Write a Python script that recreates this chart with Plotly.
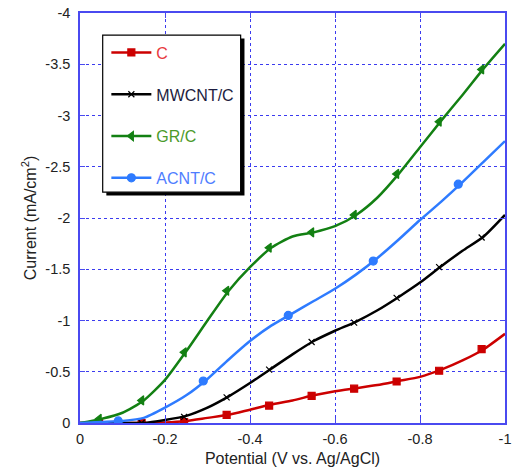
import plotly.graph_objects as go

# ---------------- data ----------------
potential = [0.0, -0.05, -0.10, -0.15, -0.20, -0.25, -0.30, -0.35, -0.40, -0.45, -0.50,
             -0.55, -0.60, -0.65, -0.70, -0.75, -0.80, -0.85, -0.90, -0.95, -1.00]

current_c     = [0.0, 0.0, 0.0, 0.0, 0.005, 0.02, 0.05, 0.08, 0.13, 0.18, 0.22,
                 0.27, 0.31, 0.34, 0.37, 0.41, 0.45, 0.52, 0.61, 0.72, 0.87]
current_mwcnt = [0.0, 0.0, 0.0, 0.0, 0.03, 0.07, 0.15, 0.26, 0.39, 0.53, 0.67,
                 0.80, 0.90, 0.99, 1.10, 1.23, 1.37, 1.53, 1.68, 1.82, 2.03]
current_gr    = [0.0, 0.04, 0.10, 0.22, 0.42, 0.70, 1.00, 1.29, 1.52, 1.71, 1.82,
                 1.86, 1.92, 2.03, 2.20, 2.43, 2.69, 2.95, 3.20, 3.46, 3.70]
current_acnt  = [0.0, 0.01, 0.02, 0.05, 0.15, 0.27, 0.43, 0.62, 0.80, 0.95, 1.07,
                 1.19, 1.31, 1.45, 1.61, 1.79, 1.98, 2.16, 2.35, 2.55, 2.75]
# currents are plotted as negative values (cathodic)
current_c = [-v for v in current_c]
current_mwcnt = [-v for v in current_mwcnt]
current_gr = [-v for v in current_gr]
current_acnt = [-v for v in current_acnt]

# marker positions
marker_v_odd = [-0.045, -0.145, -0.245, -0.345, -0.445, -0.545, -0.645, -0.745, -0.845, -0.945]
marker_c     = [0.0, 0.0, -0.01, -0.08, -0.17, -0.265, -0.335, -0.405, -0.51, -0.72]
marker_mwcnt = [0.0, 0.0, -0.06, -0.25, -0.52, -0.79, -0.98, -1.22, -1.52, -1.81]
marker_gr    = [-0.04, -0.22, -0.69, -1.29, -1.71, -1.86, -2.03, -2.43, -2.94, -3.45]
marker_v_acnt = [-0.09, -0.29, -0.49, -0.69, -0.89]
marker_acnt   = [-0.02, -0.41, -1.05, -1.58, -2.33]

x_ticks = [0, -0.2, -0.4, -0.6, -0.8, -1.0]
x_ticktext = ["0", "-0.2", "-0.4", "-0.6", "-0.8", "-1"]
y_ticks = [0, -0.5, -1, -1.5, -2, -2.5, -3, -3.5, -4]
y_ticktext = ["0", "-0.5", "-1", "-1.5", "-2", "-2.5", "-3", "-3.5", "-4"]

series = [
    ("C", current_c, marker_v_odd, marker_c, "#cc0000", "#cc0000", "square", 7, "#e8383d"),
    ("MWCNT/C", current_mwcnt, marker_v_odd, marker_mwcnt, "#000000", "#000000", "x-thin", 6, "#1c1c40"),
    ("GR/C", current_gr, marker_v_odd, marker_gr, "#138013", "#138013", "triangle-left", 8, "#4b9a2a"),
    ("ACNT/C", current_acnt, marker_v_acnt, marker_acnt, "#2e7bff", "#2e7bff", "circle", 8, "#4f7dff"),
]

fig = go.Figure()
for name, ys, mx, my, lc, mc, sym, ms, tc in series:
    fig.add_trace(go.Scatter(x=potential, y=ys, mode="lines",
                             line=dict(color=lc, width=2.5, shape="spline", smoothing=0.6),
                             showlegend=False, hoverinfo="skip"))
    fig.add_trace(go.Scatter(x=mx, y=my, mode="markers",
                             marker=dict(symbol=sym, size=ms, color=mc,
                                         line=dict(color=mc, width=1.2)),
                             showlegend=False))
for name, ys, mx, my, lc, mc, sym, ms, tc in series:
    fig.add_trace(go.Scatter(x=[None], y=[None], mode="lines+markers",
                             name=f"<span style='color:{tc}'>{name}</span>",
                             line=dict(color=lc, width=2.5),
                             marker=dict(symbol=sym, size=ms, color=mc,
                                         line=dict(color=mc, width=1.2)),
                             legendgroup=name))

grid_color = "#3b3bef"
axis_common = dict(showline=True, linecolor="#4a4af0", linewidth=1.5, mirror="allticks",
                   ticks="inside", ticklen=5, tickcolor="#4a4af0",
                   showgrid=True, gridcolor=grid_color, griddash="dot", gridwidth=1,
                   zeroline=False, tickfont=dict(size=14.5, color="#222222"),
                   ticklabeloverflow="allow")

fig.update_layout(
    width=514, height=475,
    margin=dict(l=80, r=3, t=13, b=52),
    paper_bgcolor="white", plot_bgcolor="white",
    font=dict(family="Liberation Sans, Arial, sans-serif", size=14, color="#222222"),
    xaxis=dict(range=[0, -1], tickvals=x_ticks, ticktext=x_ticktext,
               title=dict(text="Potential (V vs. Ag/AgCl)", font=dict(size=16), standoff=7),
               ticklabelstandoff=2,
               **axis_common),
    yaxis=dict(range=[0, -4], autorange=False, tickvals=y_ticks, ticktext=y_ticktext,
               title=dict(text="Current (mA/cm<sup>2</sup>)", font=dict(size=16), standoff=5),
               ticklabelstandoff=5,
               **axis_common),
    legend=dict(x=0.062, y=0.945, xanchor="left", yanchor="top",
                bgcolor="rgba(0,0,0,0)", borderwidth=0,
                font=dict(size=16), tracegroupgap=18, itemwidth=40),
    shapes=[
        dict(type="rect", xref="paper", yref="paper", x0=0.062, x1=0.387, y0=0.555, y1=0.938,
             fillcolor="black", line=dict(width=0), layer="above"),
        dict(type="rect", xref="paper", yref="paper", x0=0.0534, x1=0.378, y0=0.563, y1=0.946,
             fillcolor="white", line=dict(color="black", width=1.2), layer="above"),
    ],
)

fig.write_html("out.html")
